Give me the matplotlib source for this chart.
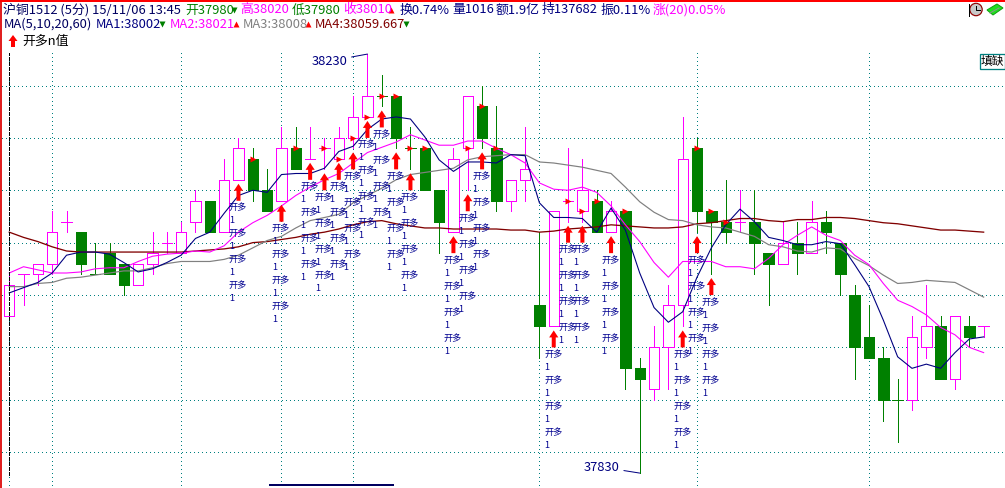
import matplotlib
matplotlib.use('Agg')
import matplotlib.pyplot as plt
from matplotlib.patches import Rectangle, Polygon, Circle

plt.rcParams['font.family'] = ['Noto Sans CJK SC', 'DejaVu Sans']
plt.rcParams['lines.scale_dashes'] = False

opens = [37980, 38020, 38020, 38030, 38070, 38060, 38020, 38040, 38030, 38010, 38030, 38050, 38040, 38070, 38090, 38060, 38110,
         38130, 38100, 38090, 38140, 38130, 38140, 38130, 38150, 38170, 38190, 38190, 38140, 38140, 38100, 38060, 38140, 38180,
         38140, 38090, 38110, 37990, 37970, 38090, 38080, 38090, 38060, 38080, 37930, 37910, 37950, 37990, 38140, 38080, 38070,
         38070, 38070, 38040, 38030, 38050, 38040, 38070, 38050, 38000, 37960, 37940, 37900, 37900, 37950, 37970, 37920, 37970, 37970]
highs = [38020, 38020, 38030, 38080, 38080, 38060, 38050, 38050, 38030, 38030, 38060, 38060, 38070, 38100, 38090, 38130, 38150,
         38140, 38120, 38160, 38160, 38160, 38150, 38160, 38190, 38230, 38210, 38190, 38160, 38140, 38100, 38140, 38190, 38200,
         38180, 38110, 38160, 38060, 38080, 38140, 38130, 38100, 38090, 38080, 37940, 37970, 38010, 38170, 38150, 38080, 38110,
         38100, 38100, 38040, 38070, 38070, 38090, 38080, 38050, 38010, 37990, 37950, 37920, 37980, 38010, 37980, 37980, 37980, 37970]
lows = [37980, 37990, 38010, 38020, 38060, 38020, 38020, 38020, 38000, 38010, 38020, 38040, 38040, 38060, 38060, 38060, 38110,
        38090, 38080, 38090, 38120, 38130, 38120, 38130, 38140, 38170, 38180, 38140, 38120, 38100, 38040, 38060, 38100, 38140,
        38080, 38080, 38090, 37940, 37970, 38070, 38070, 38060, 38060, 37910, 37830, 37900, 37910, 37970, 38060, 38020, 38050,
        38060, 38020, 37990, 38030, 38020, 38040, 38040, 38000, 37920, 37940, 37880, 37860, 37890, 37940, 37920, 37910, 37950, 37960]
closes = [38010, 38020, 38030, 38060, 38070, 38030, 38020, 38020, 38010, 38030, 38040, 38050, 38060, 38090, 38060, 38110, 38140,
          38100, 38080, 38140, 38120, 38130, 38140, 38150, 38170, 38190, 38190, 38150, 38140, 38100, 38070, 38130, 38190, 38150,
          38090, 38110, 38120, 37970, 38080, 38090, 38100, 38060, 38080, 37930, 37920, 37950, 37990, 38130, 38080, 38070, 38060,
          38070, 38050, 38030, 38050, 38040, 38070, 38060, 38020, 37950, 37940, 37900, 37900, 37960, 37970, 37920, 37980, 37960, 37970]
doji_down = [6, 26, 28, 62]

ma1 = [38002, 38007, 38012, 38021, 38038, 38041, 38041, 38039, 38031, 38022, 38025, 38031, 38038, 38054, 38060, 38078, 38095,
       38100, 38098, 38115, 38116, 38116, 38121, 38137, 38142, 38158, 38168, 38170, 38168, 38151, 38129, 38118, 38127, 38127,
       38126, 38134, 38133, 38088, 38074, 38074, 38073, 38060, 38083, 38062, 38021, 37988, 37974, 37984, 38017, 38045, 38067,
       38082, 38070, 38055, 38052, 38048, 38048, 38051, 38049, 38029, 38008, 37976, 37941, 37930, 37934, 37930, 37945, 37958, 37960]
ma2 = [38021, 38027, 38024, 38021, 38021, 38022, 38025, 38026, 38026, 38032, 38037, 38039, 38040, 38042, 38041, 38047, 38060,
       38069, 38076, 38085, 38095, 38103, 38110, 38116, 38126, 38136, 38141, 38146, 38153, 38148, 38143, 38143, 38147, 38147,
       38140, 38134, 38126, 38107, 38101, 38100, 38103, 38098, 38085, 38067, 38051, 38031, 38017, 38032, 38032, 38032, 38027,
       38027, 38025, 38035, 38048, 38057, 38065, 38057, 38052, 38038, 38029, 38011, 37995, 37989, 37981, 37969, 37962, 37950, 37945]
ma3 = [38008, 38008, 38011, 38012, 38016, 38017, 38019, 38021, 38023, 38023, 38026, 38030, 38032, 38032, 38032, 38034, 38038,
       38045, 38052, 38056, 38064, 38071, 38074, 38077, 38088, 38095, 38102, 38110, 38115, 38117, 38119, 38121, 38129, 38132,
       38133, 38134, 38134, 38127, 38126, 38124, 38122, 38119, 38116, 38103, 38089, 38079, 38072, 38071, 38067, 38065, 38064,
       38060, 38056, 38048, 38046, 38042, 38041, 38045, 38044, 38035, 38028, 38019, 38011, 38012, 38014, 38013, 38012, 38005, 37998]
ma4 = [38060, 38055, 38051, 38046, 38042, 38041, 38041, 38041, 38041, 38041, 38041, 38041, 38041, 38042, 38043, 38044, 38046,
       38050, 38051, 38053, 38055, 38058, 38060, 38063, 38067, 38070, 38071, 38068, 38066, 38064, 38064, 38063, 38063, 38063,
       38063, 38062, 38062, 38060, 38061, 38063, 38064, 38065, 38067, 38066, 38065, 38064, 38064, 38065, 38068, 38069, 38071,
       38073, 38073, 38071, 38070, 38072, 38072, 38074, 38074, 38073, 38071, 38069, 38068, 38066, 38064, 38062, 38062, 38061, 38060]

signals = [16, 19, 21, 22, 23, 24, 25, 26, 27, 28, 31, 32, 33, 38, 39, 40, 42, 47, 48, 49]
price_ticks = [38200, 38150, 38100, 38050, 38000, 37950, 37900, 37850]
time_ticks = [0, 3, 12, 19, 24, 37, 48, 60]

header1 = [('沪铜1512 (5分) 15/11/06 13:45', 3, '#000060'), ('开37980', 185, '#008000'), ('高38020', 240, '#ff00ff'),
           ('低37980', 292, '#008000'), ('收38010', 343, '#ff00ff'), ('换0.74%', 400, '#000080'), ('量1016', 452, '#000080'),
           ('额1.9亿', 496, '#000080'), ('持137682', 542, '#000080'), ('振0.11%', 600, '#000080'), ('涨(20)0.05%', 653, '#ff00ff')]
header2 = [('MA(5,10,20,60)', 4, '#000060'), ('MA1:38002', 96, '#000080'), ('MA2:38021', 170, '#ff00ff'),
           ('MA3:38008', 243, '#808080'), ('MA4:38059.667', 315, '#800000')]
flags = [(234, 10, 'v', '#008000'), (391, 10, '^', '#ff0000'), (162, 24, 'v', '#008000'), (236, 24, '^', '#ff0000'),
         (308, 24, '^', '#ff0000'), (406, 24, 'v', '#008000')]

GREEN = '#008000'
MAGENTA = '#ff00ff'
NAVY = '#000080'
TEAL = '#008080'
PX = 0.72  # one pixel in points at dpi 100

# price/index <-> pixel scale of the picture
X0, DX = 9.2, 14.33
Y0, DY = 295, 1.0475

fig = plt.figure(figsize=(10.05, 4.88), dpi=100)
ax = fig.add_axes([0, 0, 1, 1])
ax.set_xlim((0 - X0) / DX, (1005 - X0) / DX)
ax.set_ylim(38000 + (Y0 - 488) / DY, 38000 + Y0 / DY)
ax.axis('off')
top_grid = 38000 + (Y0 - 53) / DY

dots = (0, (PX, 3 * PX))
for p in price_ticks:
    ax.plot([(2 - X0) / DX, (1005 - X0) / DX], [p, p], color=TEAL, lw=PX, ls=dots, antialiased=False, zorder=1)
for t in time_ticks:
    ax.plot([t, t], [top_grid, ax.get_ylim()[0]], color=TEAL, lw=PX, ls=dots, antialiased=False, zorder=1)

half = 5.2 / DX
for i in range(len(opens)):
    o, h, l, c = opens[i], highs[i], lows[i], closes[i]
    up = c > o or (c == o and i not in doji_down)
    col = MAGENTA if up else GREEN
    ax.plot([i, i], [l, h], color=col, lw=PX, antialiased=False, solid_capstyle='butt', zorder=2)
    if c == o:
        ax.plot([i - half, i + half], [o, o], color=col, lw=PX, antialiased=False, zorder=3)
    elif up:
        ax.add_patch(Rectangle((i - half, o), 2 * half, c - o, fc='white', ec=col, lw=PX, antialiased=False, zorder=3))
    else:
        ax.add_patch(Rectangle((i - half, c), 2 * half, o - c, fc=col, ec=col, lw=PX, antialiased=False, zorder=3))

xs = list(range(len(ma1)))
ax.plot(xs, ma4, color='#800000', lw=1.3 * PX, zorder=4)
ax.plot(xs, ma3, color='#808080', lw=1.2 * PX, zorder=4)
ax.plot(xs, ma2, color=MAGENTA, lw=1.1 * PX, zorder=4)
ax.plot(xs, ma1, color=NAVY, lw=1.1 * PX, zorder=4)

# cursor on the first bar
ax.plot([0, 0], [38000 + (Y0 - 475) / DY, top_grid], color='black', lw=PX, ls=(0, (4 * PX, 2 * PX)), antialiased=False, zorder=5)


def arrow_shape(x, tip):
    hw, sw, hh, tot = 4.6 / DX, 2 / DX, 7 / DY, 17 / DY
    return [(x, tip), (x + hw, tip - hh), (x + sw, tip - hh), (x + sw, tip - tot),
            (x - sw, tip - tot), (x - sw, tip - hh), (x - hw, tip - hh)]


for s in signals:
    tip = lows[s] - 4 / DY
    ax.add_patch(Polygon(arrow_shape(s, tip), fc='#ff0000', ec='none', zorder=6))
    ax.plot([s + 1], [opens[s + 1]], marker='>', ms=4.5, color='#ff0000', mec='none', zorder=6)
    for k in range(4):
        for text, step in (('开多', 2 * k), ('1', 2 * k + 1)):
            ax.annotate(text, xy=(s, tip), xytext=(-9.5, -(24 + 13 * step)), textcoords='offset pixels',
                        fontsize=6.6, color='#000090', ha='left', va='center', zorder=7)

# extreme labels
hi = highs.index(max(highs))
lo = lows.index(min(lows))
ax.annotate(str(highs[hi]), xy=(hi, highs[hi]), xytext=(-20, -7), textcoords='offset pixels', fontsize=9.3, color=NAVY,
            ha='right', va='center', arrowprops=dict(arrowstyle='-', color=NAVY, lw=PX, shrinkA=1, shrinkB=0))
ax.annotate(str(lows[lo]), xy=(lo, lows[lo]), xytext=(-20, 6), textcoords='offset pixels', fontsize=9.3, color=NAVY,
            ha='right', va='center', arrowprops=dict(arrowstyle='-', color=NAVY, lw=PX, shrinkA=1, shrinkB=0))

# overlay in pixel coordinates for the header and window chrome
ov = fig.add_axes([0, 0, 1, 1], facecolor='none')
ov.set_xlim(0, 1005)
ov.set_ylim(488, 0)
ov.axis('off')

for text, x, col in header1:
    ov.text(x, 10, text, color=col, fontsize=9.3, ha='left', va='center')
for text, x, col in header2:
    ov.text(x, 24.5, text, color=col, fontsize=9.3, ha='left', va='center')
for x, y, m, col in flags:
    ov.plot([x], [y], marker=m, ms=5, color=col, mec='none')
ov.add_patch(Polygon([(13, 35), (17.5, 41), (15, 41), (15, 47), (11, 47), (11, 41), (8.5, 41)], fc='#ff0000', ec='none'))
ov.text(22, 41, '开多n值', color='black', fontsize=9.3, ha='left', va='center')

ov.plot([0.8, 0.8], [0, 488], color='#e02020', lw=2 * PX, antialiased=False)
ov.plot([0, 1005], [0.5, 0.5], color='#ff0000', lw=1.5 * PX, antialiased=False)
ov.plot([270, 393], [485, 485], color='#000060', lw=1.5 * PX, antialiased=False)

# clock and chip icons
ov.plot([968.5, 968.5], [4, 16], color='black', lw=PX)
ov.add_patch(Circle((976, 9.5), 6.2, fc='#c8c8c8', ec='#900000', lw=1.2 * PX))
ov.plot([976, 976, 980], [5.5, 10, 10], color='black', lw=PX)
ov.add_patch(Polygon([(987, 10), (997, 4), (1003, 8), (993, 15)], fc='#20e020', ec='#10a010', lw=PX))
ov.plot([990, 999], [13, 8], color='#909090', lw=PX)

# button
ov.add_patch(Rectangle((979.5, 53.5), 25, 15, fc='white', ec=TEAL, lw=1.3 * PX))
ov.text(992, 61, '填缺', color='black', fontsize=8.5, ha='center', va='center')

fig.savefig('out.png', dpi=100)
